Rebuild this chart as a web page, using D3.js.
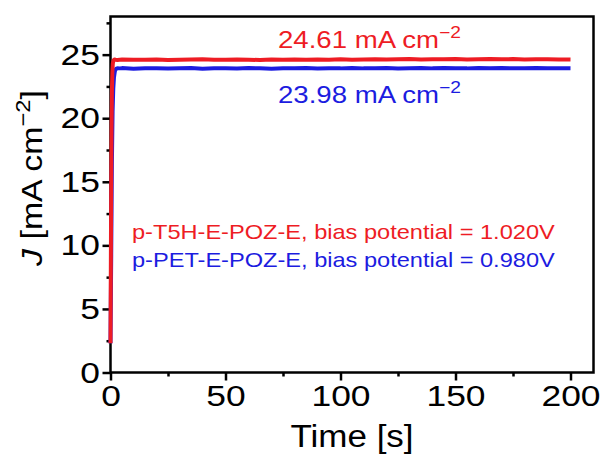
<!DOCTYPE html>
<html>
<head>
<meta charset="utf-8">
<script src="https://cdn.jsdelivr.net/npm/d3@7"></script>
<style>
  html, body { margin: 0; padding: 0; background: #fff; }
  svg { display: block; font-family: "Liberation Sans", Arial, sans-serif; }
</style>
</head>
<body>
<svg id="chart" width="603" height="456"></svg>
<script>
// ---- data ----
const redTime = [0, 0.15, 0.3, 0.45, 0.6, 0.8, 1.0, 1.3, 1.7, 2.2, 3, 4, 5, 10, 15, 20, 25, 30, 35, 40, 45, 50, 55, 60, 65, 70, 75, 80, 85, 90, 95, 100, 105, 110, 115, 120, 125, 130, 135, 140, 145, 150, 155, 160, 165, 170, 175, 180, 185, 190, 195, 200];
const redJ = [2.3, 8.5, 14.5, 19.0, 22.0, 23.6, 24.3, 24.55, 24.62, 24.6, 24.58, 24.6, 24.61, 24.59, 24.6, 24.62, 24.58, 24.6, 24.61, 24.63, 24.59, 24.6, 24.62, 24.6, 24.58, 24.61, 24.6, 24.62, 24.59, 24.61, 24.6, 24.63, 24.6, 24.62, 24.64, 24.61, 24.63, 24.65, 24.62, 24.64, 24.63, 24.65, 24.62, 24.64, 24.66, 24.63, 24.65, 24.62, 24.64, 24.63, 24.62, 24.61];
const blueTime = [0, 0.3, 0.6, 0.9, 1.2, 1.5, 1.9, 2.4, 3, 4, 5, 10, 15, 20, 25, 30, 35, 40, 45, 50, 55, 60, 65, 70, 75, 80, 85, 90, 95, 100, 105, 110, 115, 120, 125, 130, 135, 140, 145, 150, 155, 160, 165, 170, 175, 180, 185, 190, 195, 200];
const blueJ = [2.3, 9.0, 16.5, 20.5, 22.3, 23.2, 23.7, 23.88, 23.93, 23.92, 23.94, 23.9, 23.92, 23.93, 23.91, 23.92, 23.94, 23.9, 23.92, 23.93, 23.91, 23.94, 23.92, 23.9, 23.93, 23.92, 23.94, 23.91, 23.93, 23.92, 23.95, 23.92, 23.93, 23.94, 23.91, 23.93, 23.95, 23.92, 23.94, 23.93, 23.92, 23.95, 23.93, 23.94, 23.92, 23.93, 23.94, 23.92, 23.93, 23.92];
const xTicks = [0, 50, 100, 150, 200];
const xMinor = [25, 75, 125, 175];
const yTicks = [0, 5, 10, 15, 20, 25];
const yMinor = [2.5, 7.5, 12.5, 17.5, 22.5, 27.5];
const redAnno = "24.61 mA cm";
const blueAnno = "23.98 mA cm";
const redLegend = "p-T5H-E-POZ-E, bias potential = 1.020V";
const blueLegend = "p-PET-E-POZ-E, bias potential = 0.980V";

const RED = "#ee1c24";
const BLUE = "#1c1ce0";
const SX = 1.18; // horizontal text stretch seen in the reference

const svg = d3.select("#chart");
const x = d3.scaleLinear().domain([0, 210]).range([110.5, 593.5]);
const y = d3.scaleLinear().domain([0, 28]).range([372.5, 16.5]);

// frame
svg.append("rect")
  .attr("x", x(0)).attr("y", y(28))
  .attr("width", x(210) - x(0)).attr("height", y(0) - y(28))
  .attr("fill", "none").attr("stroke", "#000").attr("stroke-width", 2.5);

// axes
const fs = 30;
const xAxis = svg.append("g").attr("transform", `translate(0,${y(0)})`)
  .call(d3.axisBottom(x).tickValues(xTicks).tickSize(8).tickPadding(4).tickFormat(d3.format("d")));
const xAxisMinor = svg.append("g").attr("transform", `translate(0,${y(0)})`)
  .call(d3.axisBottom(x).tickValues(xMinor).tickSize(4).tickFormat(""));
const yAxis = svg.append("g").attr("transform", `translate(${x(0)},0)`)
  .call(d3.axisLeft(y).tickValues(yTicks).tickSize(8).tickPadding(4).tickFormat(d3.format("d")));
const yAxisMinor = svg.append("g").attr("transform", `translate(${x(0)},0)`)
  .call(d3.axisLeft(y).tickValues(yMinor).tickSize(4).tickFormat(""));
[xAxis, xAxisMinor, yAxis, yAxisMinor].forEach(g => {
  g.select(".domain").remove();
  g.selectAll(".tick line").attr("stroke", "#000").attr("stroke-width", 2.5);
  g.selectAll("text").attr("font-size", fs).attr("fill", "#000")
    .attr("font-family", "Liberation Sans, Arial, sans-serif");
});
xAxis.selectAll(".tick text").attr("transform", `scale(${SX},1)`);
yAxis.selectAll(".tick text").attr("x", -9).attr("transform", `scale(${SX},1)`);

// lines (drawn over the frame, as in the reference)
const line = d3.line().x(d => x(d[0])).y(d => y(d[1]));
svg.append("path")
  .datum(blueTime.map((t, i) => [t, blueJ[i]]))
  .attr("d", line).attr("fill", "none").attr("stroke", BLUE)
  .attr("stroke-width", 4).attr("stroke-linejoin", "round");
svg.append("path")
  .datum(redTime.map((t, i) => [t, redJ[i]]))
  .attr("d", line).attr("fill", "none").attr("stroke", RED)
  .attr("stroke-width", 4).attr("stroke-linejoin", "round");

// axis titles
svg.append("text")
  .attr("transform", "translate(352,447) scale(1.13,1)")
  .attr("text-anchor", "middle").attr("font-size", 31)
  .text("Time [s]");

const yl = svg.append("text")
  .attr("transform", "translate(42,178) rotate(-90) scale(1.13,1)")
  .attr("text-anchor", "middle").attr("font-size", 30);
yl.append("tspan").attr("font-style", "italic").text("J");
yl.append("tspan").text(" [mA cm");
yl.append("tspan").attr("font-size", 21).attr("dy", -12).text("\u22122");
yl.append("tspan").attr("dy", 12).text("]");

// annotations
function anno(txt, xx, yy, color) {
  const t = svg.append("text")
    .attr("transform", `translate(${xx},${yy}) scale(1.2,1)`)
    .attr("font-size", 23).attr("fill", color);
  t.append("tspan").text(txt);
  t.append("tspan").attr("font-size", 16).attr("dy", -10).text("\u22122");
}
anno(redAnno, 278, 48, RED);
anno(blueAnno, 278, 103, BLUE);

svg.append("text").attr("transform", `translate(132,239) scale(${SX},1)`)
  .attr("font-size", 20).attr("fill", RED).text(redLegend);
svg.append("text").attr("transform", `translate(132,267) scale(${SX},1)`)
  .attr("font-size", 20).attr("fill", BLUE).text(blueLegend);
</script>
</body>
</html>
